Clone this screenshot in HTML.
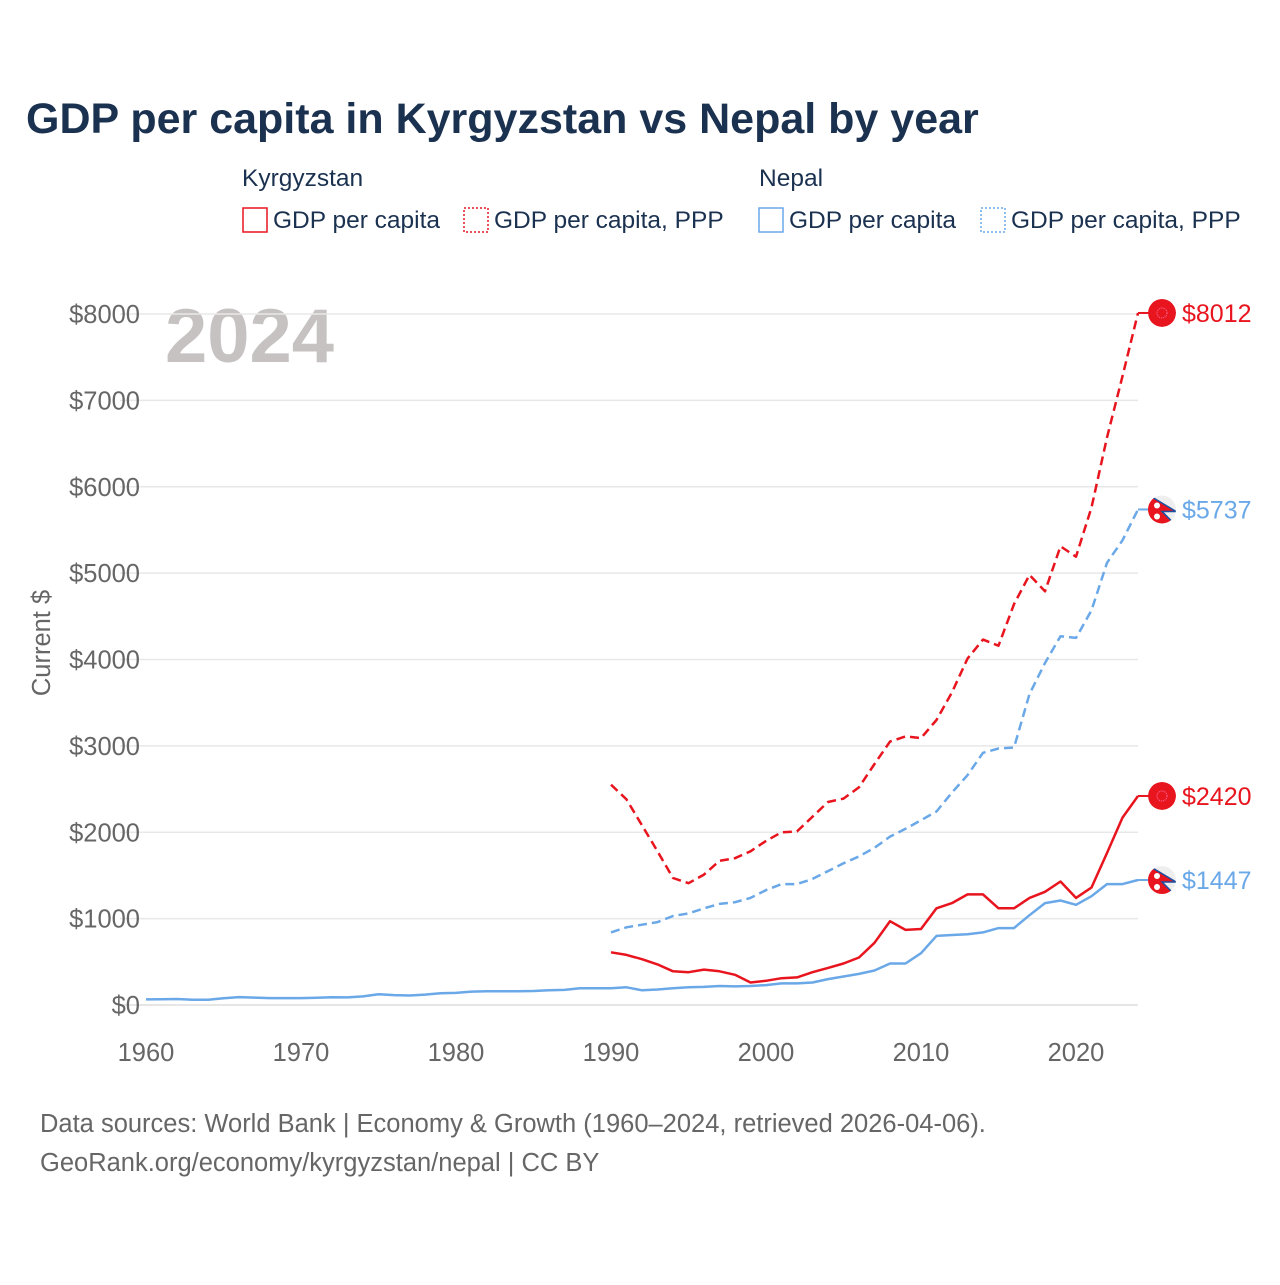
<!DOCTYPE html>
<html><head><meta charset="utf-8"><style>
body{margin:0;background:#fff;font-family:"Liberation Sans",sans-serif}
svg text{font-family:"Liberation Sans",sans-serif}
</style></head><body>
<svg id="chart" width="1280" height="1280" viewBox="0 0 1280 1280">
<defs><clipPath id="fc1"><circle cx="0" cy="0" r="14"/></clipPath></defs>
<text x="26" y="133" font-size="43" font-weight="bold" fill="#1b3150">GDP per capita in Kyrgyzstan vs Nepal by year</text>
<g font-size="24.5" fill="#1b3150">
<text x="242" y="186">Kyrgyzstan</text>
<text x="759" y="186">Nepal</text>
<g><rect x="243" y="208" width="24" height="24" fill="none" stroke="#e8141e" stroke-width="1.5"/><text x="273" y="228">GDP per capita</text></g>
<g><rect x="464" y="208" width="24" height="24" fill="none" stroke="#e8141e" stroke-width="1.5" stroke-dasharray="2,2"/><text x="494" y="228">GDP per capita, PPP</text></g>
<g><rect x="759" y="208" width="24" height="24" fill="none" stroke="#6aa8e8" stroke-width="1.5"/><text x="789" y="228">GDP per capita</text></g>
<g><rect x="981" y="208" width="24" height="24" fill="none" stroke="#6aa8e8" stroke-width="1.5" stroke-dasharray="2,2"/><text x="1011" y="228">GDP per capita, PPP</text></g>
</g>
<text x="165" y="362" font-size="76" font-weight="bold" fill="#c6c2c2">2024</text>
<g id="grid"></g><g id="axes"></g><g id="series"></g><g id="ends"></g>
<text transform="translate(50,643) rotate(-90)" text-anchor="middle" font-size="25.5" fill="#666">Current $</text>
<text x="40" y="1132" font-size="25.5" fill="#666">Data sources: World Bank | Economy &amp; Growth (1960–2024, retrieved 2026-04-06).</text>
<text x="40" y="1171" font-size="25.5" fill="#666">GeoRank.org/economy/kyrgyzstan/nepal | CC BY</text>
</svg>
<script>
const yTicks=[0,1000,2000,3000,4000,5000,6000,7000,8000];
const xTicks=[1960,1970,1980,1990,2000,2010,2020];
const kgzYears=[];for(let y=1990;y<=2024;y++)kgzYears.push(y);
const nplYears=[];for(let y=1960;y<=2024;y++)nplYears.push(y);
const kgzGdp=[610,580,530,470,390,380,410,390,350,260,280,310,320,380,430,480,550,720,970,870,880,1120,1180,1280,1280,1120,1120,1240,1310,1430,1240,1360,1760,2170,2420];
const kgzPpp=[2550,2380,2080,1780,1470,1410,1510,1670,1700,1780,1900,2000,2010,2180,2350,2390,2520,2790,3050,3110,3090,3300,3620,4010,4230,4160,4640,4980,4790,5310,5190,5760,6570,7280,8012];
const nplPppYears=kgzYears;
const nplPpp=[840,900,930,960,1030,1060,1120,1170,1190,1240,1330,1400,1400,1460,1550,1640,1720,1820,1950,2040,2140,2240,2460,2660,2920,2970,2980,3600,3960,4270,4250,4570,5120,5380,5737];
const nplGdp=[65,66,70,60,60,78,92,86,80,80,80,84,90,88,100,125,115,110,120,135,140,155,160,160,160,162,170,175,195,195,195,205,170,180,195,205,210,220,215,220,230,250,250,260,300,330,360,400,480,480,600,800,810,820,840,890,890,1040,1180,1210,1160,1260,1400,1400,1447];
const X=y=>146+(y-1960)*15.5;
const Y=v=>1005-v*0.086375;
const NS='http://www.w3.org/2000/svg';
function mk(tag,attrs,parent){const e=document.createElementNS(NS,tag);for(const k in attrs)e.setAttribute(k,attrs[k]);parent.appendChild(e);return e;}
const grid=document.getElementById('grid'),axes=document.getElementById('axes'),ser=document.getElementById('series'),ends=document.getElementById('ends');
yTicks.forEach(t=>{
 const l=mk('line',{x1:120,x2:1138,y1:Y(t),y2:Y(t),stroke:t===0?'#ddd':'#e8e8e8','stroke-width':1.5},grid);
 
 
 const tx=mk('text',{x:140,y:Y(t)+9,'text-anchor':'end','font-size':25.5,fill:'#666'},axes);
 tx.textContent='$'+t;
 
 
});
xTicks.forEach(t=>{
 const tx=mk('text',{x:X(t),y:1061,'text-anchor':'middle','font-size':25.5,fill:'#666'},axes);
 tx.textContent=t;
 
 
});
function line(xs,vs,color,dash,name){
 const d=xs.map((x,i)=>(i?'L':'M')+X(x).toFixed(1)+','+Y(vs[i]).toFixed(1)).join('');
 const p=mk('path',{d:d,fill:'none',stroke:color,'stroke-width':2.5,'stroke-linejoin':'round'},ser);
 if(dash)p.setAttribute('stroke-dasharray','9,5');
 
 
}
line(nplYears,nplGdp,'#6aa8e8',false,'line-nepal-gdp');
line(nplPppYears,nplPpp,'#6aa8e8',true,'line-nepal-ppp');
line(kgzYears,kgzGdp,'#e8141e',false,'line-kyrgyzstan-gdp');
line(kgzYears,kgzPpp,'#e8141e',true,'line-kyrgyzstan-ppp');
function endLabel(v,color,flag,name){
 const y=Y(v);
 const g=mk('g',{},ends);
 
 
 mk('line',{x1:X(2024),x2:1150,y1:y,y2:y,stroke:color,'stroke-width':2},g);
 const f=mk('g',{transform:`translate(1162,${y})`,'clip-path':'url(#fc1)'},g);
 if(flag==='kgz'){mk('circle',{cx:0,cy:0,r:14,fill:'#e8141e'},f);mk('circle',{cx:0,cy:0,r:5,fill:'none',stroke:'#f7a','stroke-width':1,'stroke-dasharray':'1,1'},f);}
 else{mk('circle',{cx:0,cy:0,r:14,fill:'#eee'},f);mk('path',{d:'M-16,-16L14,2L0,2L14,16L-16,16Z',fill:'#e8141e',stroke:'#1d4fa0','stroke-width':1.5},f);mk('circle',{cx:-5,cy:-4,r:3,fill:'#fff'},f);mk('circle',{cx:-5,cy:7,r:3,fill:'#fff'},f);}
 const t=mk('text',{x:1182,y:y+9,'font-size':25,fill:color},g);
 t.textContent='$'+v;
}
endLabel(kgzPpp[kgzPpp.length-1],'#e8141e','kgz','end-label-kyrgyzstan-ppp');
endLabel(nplPpp[nplPpp.length-1],'#6aa8e8','npl','end-label-nepal-ppp');
endLabel(kgzGdp[kgzGdp.length-1],'#e8141e','kgz','end-label-kyrgyzstan-gdp');
endLabel(nplGdp[nplGdp.length-1],'#6aa8e8','npl','end-label-nepal-gdp');
</script>
</body></html>
